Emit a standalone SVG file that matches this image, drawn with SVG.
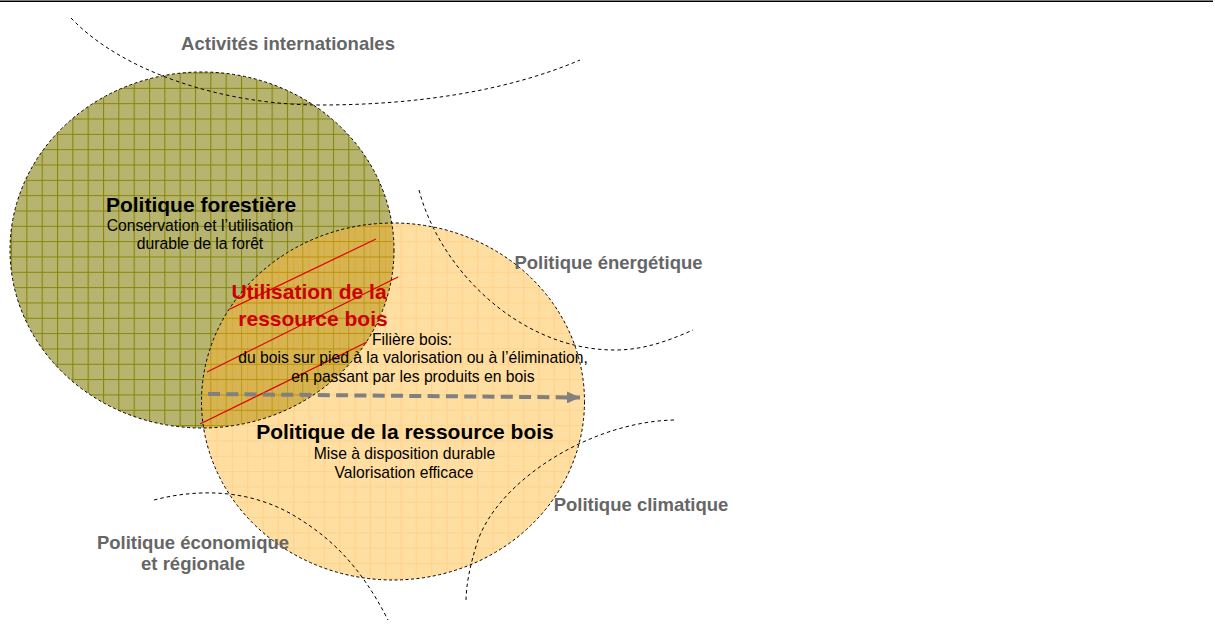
<svg xmlns="http://www.w3.org/2000/svg" width="1215" height="635" viewBox="0 0 1215 635">
<style>
.outline{fill:none;stroke:#000;stroke-width:1;stroke-dasharray:3 2.5}
.arc{fill:none;stroke:#000;stroke-width:1;stroke-dasharray:3.5 3}
.lbl{font-family:"Liberation Sans",Arial,sans-serif;font-weight:bold;font-size:18.5px;fill:#666;text-anchor:middle}
.title{font-family:"Liberation Sans",Arial,sans-serif;font-weight:bold;font-size:21px;fill:#000;text-anchor:middle}
.sub{font-family:"Liberation Sans",Arial,sans-serif;font-size:15.7px;fill:#000;text-anchor:middle}
.red{font-family:"Liberation Sans",Arial,sans-serif;font-weight:bold;font-size:21px;fill:#CC0000;text-anchor:middle}
.redline{stroke:#E00000;stroke-width:1.2;fill:none}
</style>
<defs>
<pattern id="gridG" patternUnits="userSpaceOnUse" x="11" y="11.2" width="15.33" height="15.33">
<rect width="15.33" height="15.33" fill="#B6B46E"/>
<path d="M0.5,0V15.33M0,0.5H15.33" stroke="#868608" stroke-width="1.1"/>
</pattern>
<pattern id="gridO" patternUnits="userSpaceOnUse" x="1.9" y="11.2" width="15.33" height="15.33">
<rect width="15.33" height="15.33" fill="#FFB52E"/>
<path d="M0.5,0V15.33M0,0.5H15.33" stroke="#FF9C00" stroke-width="1.1"/>
</pattern>
<marker id="ah" markerUnits="userSpaceOnUse" markerWidth="14" markerHeight="12" refX="13" refY="6" orient="auto">
<path d="M0,0L13,6L0,12Z" fill="#808080"/>
</marker>
</defs>
<rect width="1215" height="635" fill="#fff"/>
<line x1="0" y1="1.2" x2="1213" y2="1.2" stroke="#000" stroke-width="1.5"/>

<g id="politique-forestiere">
<ellipse cx="202" cy="250" rx="192" ry="178" fill="url(#gridG)"/>
</g>
<g id="politique-ressource-bois">
<ellipse cx="393" cy="401.5" rx="191.5" ry="178.5" fill="url(#gridO)" fill-opacity="0.45"/>
</g>
<g id="outlines">
<ellipse class="outline" cx="202" cy="250" rx="192" ry="178"/>
<ellipse class="outline" cx="393" cy="401.5" rx="191.5" ry="178.5"/>
</g>

<g id="arcs">
<path class="arc" d="M71,18 C120,70 220,105 320,105 C420,105 510,90 580,60"/>
<path class="arc" d="M419,190 C440,270 520,350 615,350 C645,350 670,340 693,330"/>
<path class="arc" d="M674,420 C590,422 500,480 478,540 C470,565 466,585 466,602"/>
<path class="arc" d="M154,500 C200,488 250,490 293,515 C330,537 360,565 388,620"/>
</g>

<g id="utilisation-ressource-bois">
<line class="redline" x1="230" y1="309" x2="376" y2="239"/>
<line class="redline" x1="207" y1="372" x2="398" y2="277"/>
<line class="redline" x1="200" y1="424" x2="367" y2="342"/>
<text class="red" x="309" y="299">Utilisation de la</text>
<text class="red" x="313" y="326">ressource bois</text>
</g>

<g id="connectors">
<line x1="208" y1="394" x2="580" y2="397.5" stroke="#808080" stroke-width="4" stroke-dasharray="12 6.3" marker-end="url(#ah)"/>
</g>

<g id="texte-forestiere">
<text class="title" x="201" y="212">Politique forestière</text>
<text class="sub" x="200" y="231">Conservation et l’utilisation</text>
<text class="sub" x="200" y="249">durable de la forêt</text>
</g>

<g id="filiere-bois">
<text class="sub" x="412" y="344.5">Filière bois:</text>
<text class="sub" x="413" y="363">du bois sur pied à la valorisation ou à l’élimination,</text>
<text class="sub" x="413" y="382">en passant par les produits en bois</text>
</g>

<g id="texte-ressource">
<text class="title" x="405" y="438.5">Politique de la ressource bois</text>
<text class="sub" x="404.5" y="458.5">Mise à disposition durable</text>
<text class="sub" x="404" y="477.5">Valorisation efficace</text>
</g>

<g id="activites-internationales"><text class="lbl" x="288" y="50">Activités internationales</text></g>
<g id="politique-energetique"><text class="lbl" x="608.5" y="269">Politique énergétique</text></g>
<g id="politique-climatique"><text class="lbl" x="641" y="511">Politique climatique</text></g>
<g id="politique-economique">
<text class="lbl" x="193" y="549">Politique économique</text>
<text class="lbl" x="193" y="570">et régionale</text>
</g>
</svg>
